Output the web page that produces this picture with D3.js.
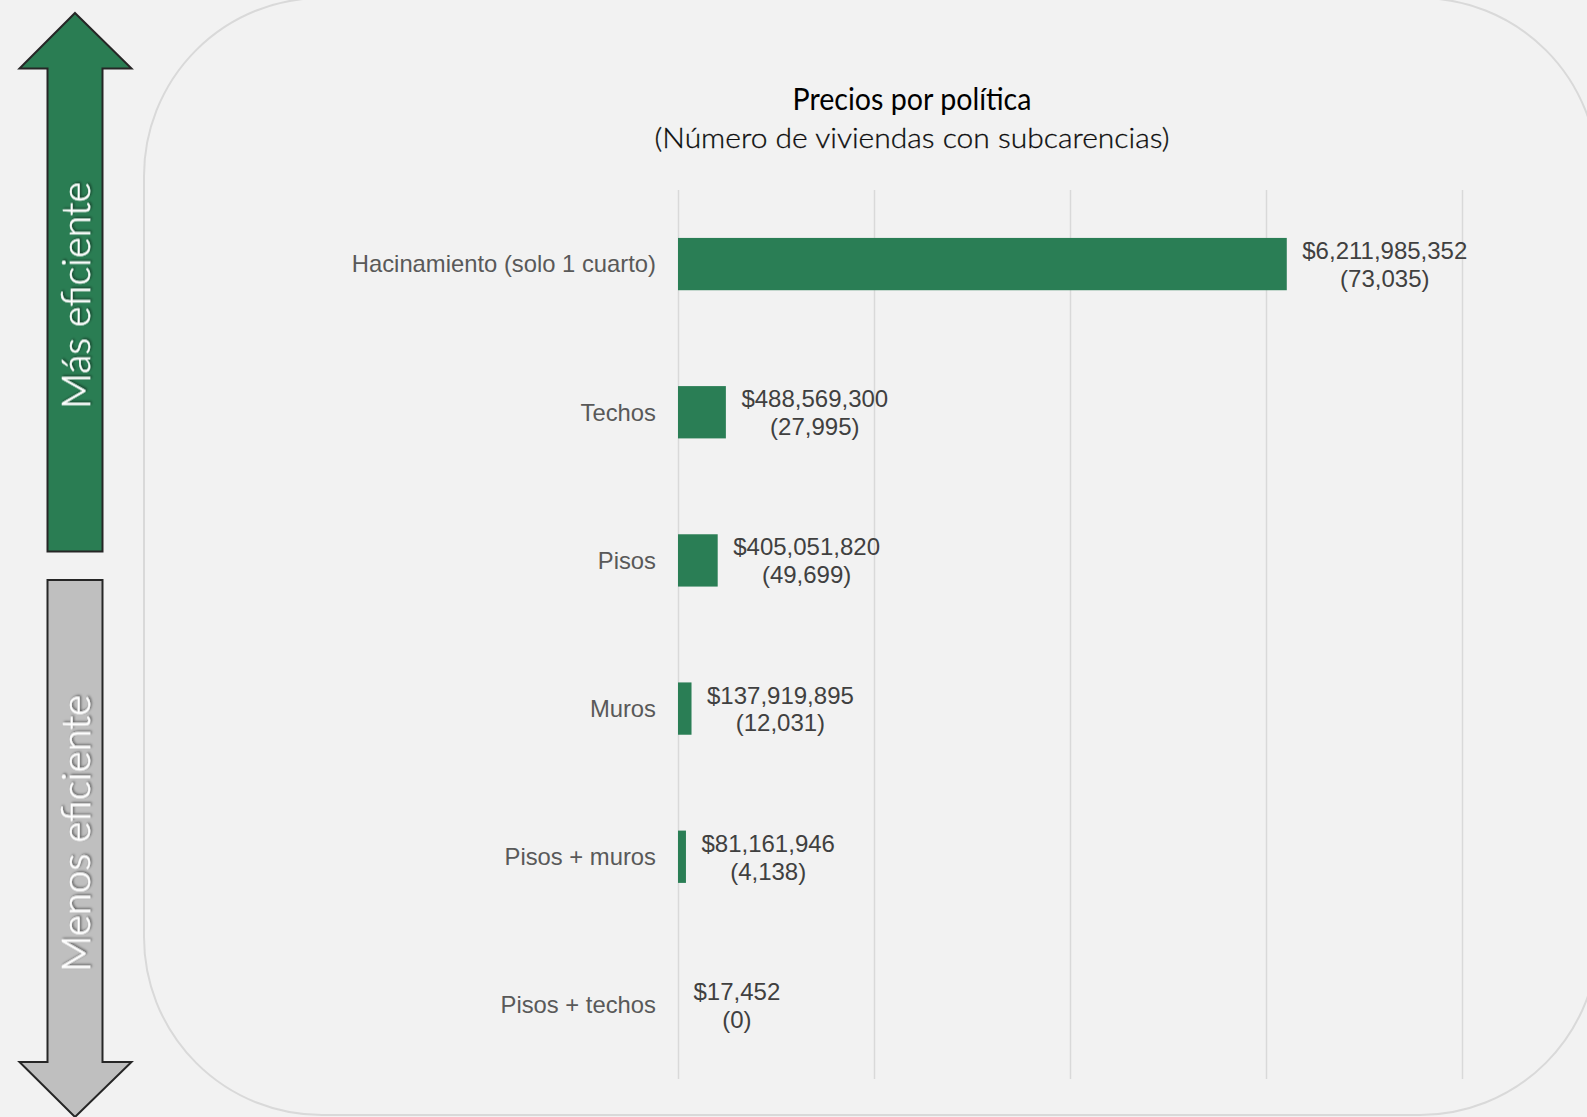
<!DOCTYPE html>
<html>
<head>
<meta charset="utf-8">
<script src="https://cdn.jsdelivr.net/npm/d3@7"></script>
<style>
  html, body { margin: 0; padding: 0; background: #f2f2f2; }
  svg { display: block; }
</style>
</head>
<body>
<svg id="chart" width="1587" height="1117"></svg>
<script>
// ---- data ----
const categories = ["Hacinamiento (solo 1 cuarto)", "Techos", "Pisos", "Muros", "Pisos + muros", "Pisos + techos"];
const prices = [6211985352, 488569300, 405051820, 137919895, 81161946, 17452];
const households = [73035, 27995, 49699, 12031, 4138, 0];
const xTicks = [0, 2e9, 4e9, 6e9, 8e9];
const titleText = "Precios por política";
const subtitleText = "(Número de viviendas con subcarencias)";
const upArrowText = "Más eficiente";
const downArrowText = "Menos eficiente";

const W = 1587, H = 1117;
const svg = d3.select("#chart");

const defs = svg.append("defs");
const f = defs.append("filter").attr("id", "tshadow").attr("x", "-20%").attr("y", "-20%").attr("width", "140%").attr("height", "140%");
f.append("feDropShadow").attr("dx", 1.3).attr("dy", 1.3).attr("stdDeviation", 1.3)
  .attr("flood-color", "#000").attr("flood-opacity", 0.55);

// background
svg.append("rect").attr("width", W).attr("height", H).attr("fill", "#f2f2f2");

// rounded panel
svg.append("rect")
  .attr("x", 144).attr("y", -2).attr("width", 1454).attr("height", 1117)
  .attr("rx", 178).attr("ry", 178)
  .attr("fill", "#f2f2f2").attr("stroke", "#d9d9d9").attr("stroke-width", 2);

// arrows
const line = d3.line();
svg.append("path")
  .attr("d", line([[75,13],[131.5,68.5],[102.5,68.5],[102.5,551.5],[47.5,551.5],[47.5,68.5],[19.5,68.5]]) + "Z")
  .attr("fill", "#2a7d53").attr("stroke", "#262626").attr("stroke-width", 2).attr("stroke-linejoin", "miter");
svg.append("path")
  .attr("d", line([[47.5,580],[102.5,580],[102.5,1062],[131.5,1062],[75,1117],[19.5,1062],[47.5,1062]]) + "Z")
  .attr("fill", "#bfbfbf").attr("stroke", "#262626").attr("stroke-width", 2).attr("stroke-linejoin", "miter");

function arrowLabel(txt, cy, len) {
  svg.append("text")
    .attr("transform", `translate(90,${cy}) rotate(-90)`)
    .attr("text-anchor", "middle")
    .attr("font-family", "Lato, 'Open Sans', sans-serif")
    .attr("font-weight", 300)
    .attr("font-size", 39)
    .attr("fill", "#ffffff")
    .attr("stroke", "#ffffff").attr("stroke-width", 0.5)
    .attr("textLength", len).attr("lengthAdjust", "spacingAndGlyphs")
    .attr("filter", "url(#tshadow)")
    .text(txt);
}
arrowLabel(upArrowText, 295.5, 227);
arrowLabel(downArrowText, 833.5, 277);

// titles
svg.append("text")
  .attr("x", 912).attr("y", 110).attr("text-anchor", "middle")
  .attr("font-family", "Lato, 'Open Sans', sans-serif").attr("font-size", 30)
  .attr("fill", "#000").attr("textLength", 239).attr("lengthAdjust", "spacingAndGlyphs")
  .text(titleText);
svg.append("text")
  .attr("x", 912).attr("y", 148).attr("text-anchor", "middle")
  .attr("font-family", "Lato, 'Open Sans', sans-serif").attr("font-weight", 300).attr("font-size", 27)
  .attr("fill", "#0d0d0d").attr("stroke", "#0d0d0d").attr("stroke-width", 0.3)
  .attr("textLength", 515).attr("lengthAdjust", "spacingAndGlyphs")
  .text(subtitleText);

// scales
const plotTop = 190, plotBottom = 1079, plotLeft = 678, plotRight = 1462;
const x = d3.scaleLinear().domain([0, 8e9]).range([plotLeft, plotRight]);
const y = d3.scaleBand().domain(categories).range([plotTop, plotBottom])
  .paddingInner(0.647).paddingOuter(0.3235);

// gridlines
const grid = svg.append("g").attr("transform", `translate(0,${plotBottom})`)
  .call(d3.axisBottom(x).tickValues(xTicks).tickSize(-(plotBottom - plotTop)).tickFormat(""));
grid.select(".domain").remove();
grid.selectAll(".tick line").attr("stroke", "#d9d9d9").attr("stroke-width", 1.5);

// category labels
svg.append("g").selectAll("text").data(categories).join("text")
  .attr("x", 656).attr("y", d => y(d) + y.bandwidth() / 2 + 8.3)
  .attr("text-anchor", "end")
  .attr("font-family", "'Liberation Sans', Arial, sans-serif").attr("font-size", 23.8)
  .attr("fill", "#595959")
  .text(d => d);

// bars
const rows = categories.map((c, i) => ({ c, p: prices[i], n: households[i] }));
svg.append("g").selectAll("rect").data(rows).join("rect")
  .attr("x", x(0)).attr("y", d => y(d.c))
  .attr("width", d => x(d.p) - x(0))
  .attr("height", y.bandwidth())
  .attr("fill", "#2a7e55");

// value labels
const fmt = d3.format(",");
const lab = svg.append("g");
rows.forEach(d => {
  const cy = y(d.c) + y.bandwidth() / 2;
  const start = x(d.p) + 15.5;
  const g = lab.append("g");
  const t1 = g.append("text").attr("y", cy - 5)
    .attr("font-family", "'Liberation Sans', Arial, sans-serif").attr("font-size", 24)
    .attr("fill", "#404040").attr("text-anchor", "middle").text("$" + fmt(d.p));
  const t2 = g.append("text").attr("y", cy + 22.8)
    .attr("font-family", "'Liberation Sans', Arial, sans-serif").attr("font-size", 24)
    .attr("fill", "#404040").attr("text-anchor", "middle").text("(" + fmt(d.n) + ")");
  const w = Math.max(t1.node().getComputedTextLength(), t2.node().getComputedTextLength());
  t1.attr("x", start + w / 2);
  t2.attr("x", start + w / 2);
});
</script>
</body>
</html>
